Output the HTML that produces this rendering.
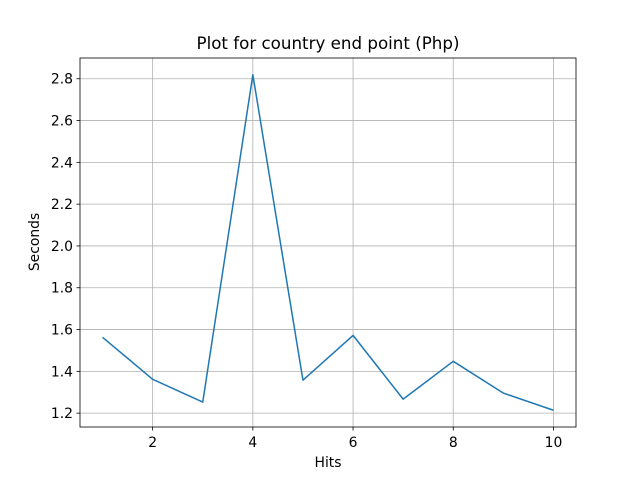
<!DOCTYPE html>
<html><head><meta charset="utf-8"><style>
body{margin:0;background:#fff;}
svg text{font-family:"DejaVu Sans","Liberation Sans",sans-serif;fill:#000;}
</style></head><body>
<svg id="chart" width="640" height="480" xmlns="http://www.w3.org/2000/svg">
<rect width="640" height="480" fill="#fff"/>
<g id="grid"></g>
<g id="ticks"></g>
<path id="line" fill="none" stroke="#1f77b4" stroke-width="1.5" stroke-linejoin="round"/>
<rect x="80" y="58" width="496" height="369" fill="none" stroke="#000" stroke-width="0.8"/>
<text x="328" y="49" font-size="16.7" text-anchor="middle">Plot for country end point (Php)</text>
<text x="328" y="467" font-size="13.9" text-anchor="middle">Hits</text>
<text transform="translate(39,242) rotate(-90)" font-size="13.9" text-anchor="middle">Seconds</text>
</svg>
<script>
const hits=[1,2,3,4,5,6,7,8,9,10];
const seconds=[1.563,1.362,1.253,2.819,1.358,1.572,1.267,1.448,1.296,1.214];
const xTicks=[2,4,6,8,10];
const yTicks=[1.2,1.4,1.6,1.8,2.0,2.2,2.4,2.6,2.8];
const L=80,R=576,T=58,B=427;
const xMin=0.55,xMax=10.45;
const yMin=Math.min(...seconds),yMax=Math.max(...seconds),pad=(yMax-yMin)*0.05;
const y0=yMin-pad,y1=yMax+pad;
const xs=v=>L+(v-xMin)/(xMax-xMin)*(R-L);
const ys=v=>B-(v-y0)/(y1-y0)*(B-T);
const NS="http://www.w3.org/2000/svg";
const grid=document.getElementById('grid'),ticks=document.getElementById('ticks');
function mk(tag,attrs,parent,txt){const e=document.createElementNS(NS,tag);for(const k in attrs)e.setAttribute(k,attrs[k]);if(txt!==undefined)e.textContent=txt;parent.appendChild(e);return e;}
xTicks.forEach(t=>{const x=xs(t);
 const g=mk('line',{x1:x,x2:x,y1:T,y2:B,stroke:'#b0b0b0','stroke-width':0.8},grid);
 
 
 mk('line',{x1:x,x2:x,y1:B,y2:B+3.5,stroke:'#000','stroke-width':0.8},ticks);
 const l=mk('text',{x:x,y:B+20,'font-size':13.9,'text-anchor':'middle'},ticks,String(t));
 
 
});
yTicks.forEach(t=>{const y=ys(t);
 const g=mk('line',{x1:L,x2:R,y1:y,y2:y,stroke:'#b0b0b0','stroke-width':0.8},grid);
 
 
 mk('line',{x1:L-3.5,x2:L,y1:y,y2:y,stroke:'#000','stroke-width':0.8},ticks);
 const l=mk('text',{x:L-7,y:y+5,'font-size':13.9,'text-anchor':'end'},ticks,t.toFixed(1));
 
 
});
document.getElementById('line').setAttribute('d',hits.map((h,i)=>(i?'L':'M')+xs(h).toFixed(2)+','+ys(seconds[i]).toFixed(2)).join(' '));
</script>
</body></html>
